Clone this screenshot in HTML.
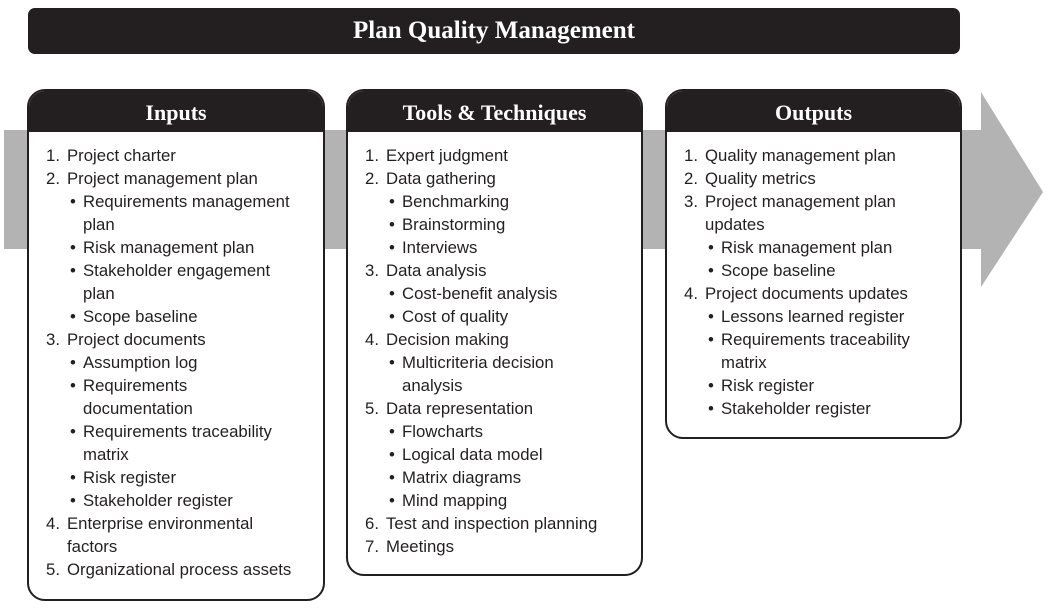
<!DOCTYPE html>
<html><head><meta charset="utf-8"><style>
body{margin:0;width:1048px;height:613px;background:#fff;position:relative;overflow:hidden;font-family:"Liberation Sans",sans-serif;color:#231f20}
.title{position:absolute;left:28px;top:8px;width:932px;height:46px;background:#231f20;border-radius:7px;color:#fff;font-family:"Liberation Serif",serif;font-weight:bold;font-size:25px;text-align:center;line-height:46px}
.box{position:absolute;top:89px;border:2px solid #231f20;border-radius:18px;background:#fff;box-sizing:border-box;overflow:hidden}
.hd{height:41px;background:#231f20;color:#fff;font-family:"Liberation Serif",serif;font-weight:bold;font-size:22px;text-align:center;line-height:44px}
.l{position:absolute;font-size:17px;line-height:23px;white-space:nowrap;transform:scaleX(0.985);transform-origin:left}
</style></head><body>
<svg style="position:absolute;left:0;top:0" width="1048" height="613"><polygon points="4,130 981,130 981,92 1043,192 981,287 981,249 4,249" fill="#b3b3b3"/></svg>
<div class="title">Plan Quality Management</div>
<div class="box" style="left:27px;width:298px;height:512px"><div class="hd">Inputs</div></div>
<div class="box" style="left:346px;width:297px;height:487px"><div class="hd">Tools &amp; Techniques</div></div>
<div class="box" style="left:665px;width:297px;height:350px"><div class="hd">Outputs</div></div>
<div id="c"></div>
<script>
function col(x,items){let y=144;let h='';for(const it of items){let t=it[0],s=it.slice(1);
if(t==='N'){h+=`<div class="l" style="left:${x}px;top:${y}px">${s.split('|')[0]}</div><div class="l" style="left:${x+21}px;top:${y}px">${s.split('|')[1]}</div>`;}
else if(t==='b'){h+=`<div class="l" style="left:${x+24}px;top:${y}px">•</div><div class="l" style="left:${x+37}px;top:${y}px">${s}</div>`;}
else if(t==='c'){h+=`<div class="l" style="left:${x+37}px;top:${y}px">${s}</div>`;}
else if(t==='d'){h+=`<div class="l" style="left:${x+21}px;top:${y}px">${s}</div>`;}
y+=23;}return h;}
document.getElementById('c').innerHTML=
col(46,['N1.|Project charter','N2.|Project management plan','bRequirements management','cplan','bRisk management plan','bStakeholder engagement','cplan','bScope baseline','N3.|Project documents','bAssumption log','bRequirements','cdocumentation','bRequirements traceability','cmatrix','bRisk register','bStakeholder register','N4.|Enterprise environmental','dfactors','N5.|Organizational process assets'])+
col(365,['N1.|Expert judgment','N2.|Data gathering','bBenchmarking','bBrainstorming','bInterviews','N3.|Data analysis','bCost-benefit analysis','bCost of quality','N4.|Decision making','bMulticriteria decision','canalysis','N5.|Data representation','bFlowcharts','bLogical data model','bMatrix diagrams','bMind mapping','N6.|Test and inspection planning','N7.|Meetings'])+
col(684,['N1.|Quality management plan','N2.|Quality metrics','N3.|Project management plan','dupdates','bRisk management plan','bScope baseline','N4.|Project documents updates','bLessons learned register','bRequirements traceability','cmatrix','bRisk register','bStakeholder register']);
</script>
</body></html>
